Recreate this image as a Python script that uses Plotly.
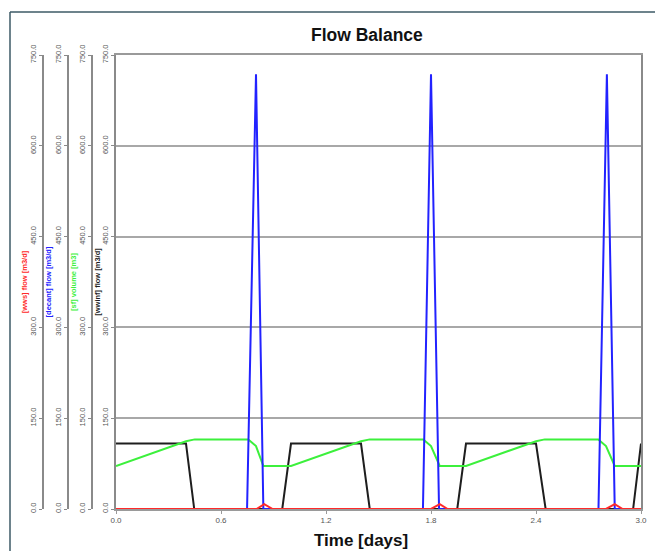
import plotly.graph_objects as go

# ---- data ----
y_ticks = [0, 150, 300, 450, 600, 750]
x_ticks = [0.0, 0.6, 1.2, 1.8, 2.4, 3.0]

t_wwinf = [0.0, 0.40, 0.447, 0.95, 1.0, 1.40, 1.45, 1.95, 2.0, 2.40, 2.455, 2.955, 3.0]
wwinf = [108, 108, 0, 0, 108, 108, 0, 0, 108, 108, 0, 0, 108]

t_sf = [0.0, 0.40, 0.45, 0.756, 0.80, 0.842, 1.0, 1.40, 1.45, 1.756, 1.80, 1.85,
        2.0, 2.40, 2.45, 2.756, 2.80, 2.85, 3.0]
sf = [71, 112, 115, 115, 104, 71, 71, 112, 115, 115, 104, 71, 71, 112, 115, 115, 104, 71, 71]

t_decant = [0.0, 0.749, 0.80, 0.842, 1.754, 1.80, 1.846, 2.757, 2.805, 2.85, 3.0]
decant = [0, 0, 718, 0, 0, 718, 0, 0, 718, 0, 0]

t_wws = [0.0, 0.803, 0.847, 0.895, 1.80, 1.85, 1.895, 2.80, 2.85, 2.895, 3.0]
wws = [0, 0, 8, 0, 0, 8, 0, 0, 8, 0, 0]

# ---- figure ----
W, H = 655, 551
L, R, T, B = 43, 14, 55, 42
PW = W - L - R
PH = H - T - B

def px_to_paper(px):
    return (px - L) / PW

def py_to_paper(py):
    return (H - B - py) / PH

FONT = "Liberation Sans, Arial, sans-serif"

fig = go.Figure()
fig.add_trace(go.Scatter(x=t_wwinf, y=wwinf, mode="lines", name="[wwinf] flow",
                         line=dict(color="#1e1e1e", width=2), yaxis="y"))
fig.add_trace(go.Scatter(x=t_sf, y=sf, mode="lines", name="[sf] volume",
                         line=dict(color="#3cf03c", width=2), yaxis="y2"))
fig.add_trace(go.Scatter(x=t_decant, y=decant, mode="lines", name="[decant] flow",
                         line=dict(color="#2222ff", width=2), yaxis="y3"))
fig.add_trace(go.Scatter(x=t_wws, y=wws, mode="lines", name="[wws] flow",
                         line=dict(color="#ff2a2a", width=2), yaxis="y4"))

tickfont = dict(family=FONT, size=7.5, color="#555555")
ticktext = ["%.1f" % v for v in y_ticks]

def yax(title, color, **kw):
    d = dict(range=[0, 750], tickvals=y_ticks, ticktext=ticktext, tickangle=-90,
             tickfont=tickfont, showline=True, linecolor="#8a8a8a", linewidth=1.5,
             ticks="outside", ticklen=3, tickcolor="#8a8a8a", zeroline=False,
             showgrid=False, fixedrange=True, automargin=False,
             title=dict(text="<b>" + title + "</b>",
                        font=dict(family=FONT, size=7.5, color=color), standoff=0))
    d.update(kw)
    return d

x0 = px_to_paper(116)
fig.update_layout(
    width=W, height=H,
    margin=dict(l=L, r=R, t=T, b=B, autoexpand=False),
    paper_bgcolor="white", plot_bgcolor="white",
    showlegend=False,
    xaxis=dict(domain=[x0, 1], range=[0, 3], tickvals=x_ticks,
               ticktext=["%.1f" % v for v in x_ticks], tickfont=dict(family=FONT, size=8, color="#555555"),
               showline=True, linecolor="#9a9a9a", linewidth=1.5, mirror=True,
               ticks="outside", ticklen=3, tickcolor="#9a9a9a",
               showgrid=False, zeroline=False, automargin=False),
    yaxis=yax("[wwinf] flow [m3/d]", "#1e1e1e", anchor="x", mirror=True,
              showgrid=True, gridcolor="#a8a8a8", gridwidth=1.5),
    yaxis2=yax("[sf] volume [m3]", "#3cf03c", overlaying="y", anchor="free",
               side="left", position=px_to_paper(92)),
    yaxis3=yax("[decant] flow [m3/d]", "#2222ff", overlaying="y", anchor="free",
               side="left", position=px_to_paper(67.5)),
    yaxis4=yax("[wws] flow [m3/d]", "#ff2a2a", overlaying="y", anchor="free",
               side="left", position=0),
)

# Title and x-axis label
fig.add_annotation(text="<b>Flow Balance</b>", xref="paper", yref="paper",
                   x=px_to_paper(367), y=py_to_paper(35), showarrow=False,
                   font=dict(family=FONT, size=17.5, color="#111111"),
                   xanchor="center", yanchor="middle")
fig.add_annotation(text="<b>Time [days]</b>", xref="paper", yref="paper",
                   x=px_to_paper(361), y=py_to_paper(540), showarrow=False,
                   font=dict(family=FONT, size=17, color="#111111"),
                   xanchor="center", yanchor="middle")

# outer frame (top and left dark lines)
fig.add_shape(type="line", xref="paper", yref="paper",
              x0=px_to_paper(10), x1=px_to_paper(655), y0=py_to_paper(12), y1=py_to_paper(12),
              line=dict(color="#3d5a66", width=1.5))
fig.add_shape(type="line", xref="paper", yref="paper",
              x0=px_to_paper(10), x1=px_to_paper(10), y0=py_to_paper(12), y1=py_to_paper(551),
              line=dict(color="#3d5a66", width=1.5))

fig.write_html("out.html", config={"displayModeBar": False},
               post_script="document.body.style.margin='0';document.body.style.overflow='hidden';")
